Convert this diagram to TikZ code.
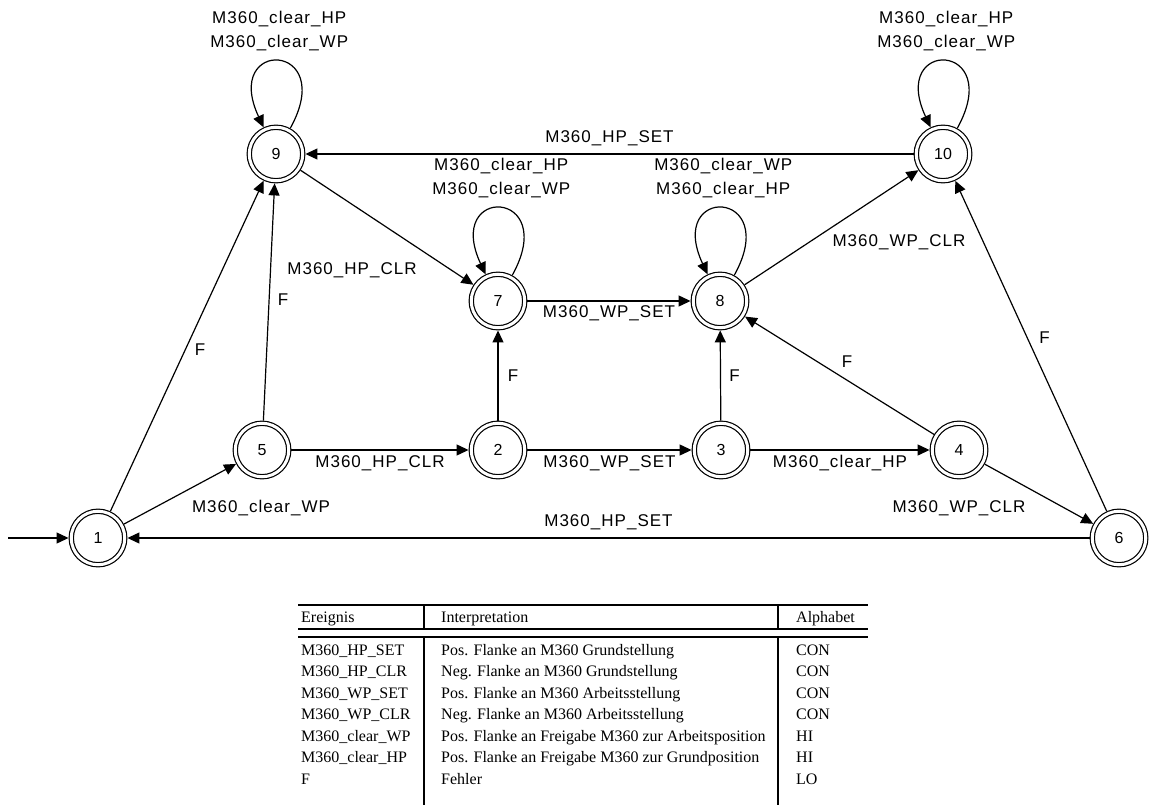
\documentclass[tikz,border=0pt]{standalone}
\usepackage{fontspec}
\setmainfont{Liberation Sans}
\newfontfamily\tabserif{Liberation Serif}
\usetikzlibrary{arrows.meta}
\begin{document}
\begin{tikzpicture}[x=1pt,y=1pt,
  state/.style={circle, draw, double, line width=1.2pt, double distance=3pt,
    minimum size=53.5pt, inner sep=0pt, outer sep=2.7pt,
    font=\fontsize{16}{18}\selectfont},
  trans/.style={line width=1.2pt, -{Triangle[length=12pt,width=11pt]}},
  lbl/.style={font=\fontsize{17}{24}\selectfont\addfontfeature{LetterSpace=6},
    inner sep=0pt, align=center},
  cell/.style={font=\tabserif\fontsize{16}{18}\selectfont, anchor=west,
    inner sep=0pt, text height=11pt, text depth=3pt},
  hrule/.style={line width=1.6pt}
]
\useasboundingbox (0,0) rectangle (1155,-805);

% states
\node[state] (n1)  at (98,-538)  {1};
\node[state] (n9)  at (276,-154) {9};
\node[state] (n10) at (943,-154) {10};
\node[state] (n7)  at (498,-301) {7};
\node[state] (n8)  at (720,-301) {8};
\node[state] (n5)  at (262,-450) {5};
\node[state] (n2)  at (498,-450) {2};
\node[state] (n3)  at (721,-450) {3};
\node[state] (n4)  at (959,-450) {4};
\node[state] (n6)  at (1119,-538) {6};
\coordinate (start) at (8,-538);

% transitions
\draw[trans] (start) -- (n1);
\draw[trans] (n1) -- node[lbl, xshift=13, yshift=-4]{F} (n9);
\draw[trans] (n1) -- node[lbl, xshift=81, yshift=-14]{M360\_clear\_WP} (n5);
\draw[trans] (n5) -- node[lbl, xshift=14, yshift=2]{F} (n9);
\draw[trans] (n5) -- node[lbl, yshift=-13]{M360\_HP\_CLR} (n2);
\draw[trans] (n2) -- node[lbl, yshift=-13]{M360\_WP\_SET} (n3);
\draw[trans] (n3) -- node[lbl, yshift=-13]{M360\_clear\_HP} (n4);
\draw[trans] (n2) -- node[lbl, xshift=15]{F} (n7);
\draw[trans] (n3) -- node[lbl, xshift=14]{F} (n8);
\draw[trans] (n4) -- node[lbl, xshift=7.5, yshift=13.5]{F} (n8);
\draw[trans] (n4) -- node[lbl, xshift=-80, yshift=-14]{M360\_WP\_CLR} (n6);
\draw[trans] (n6) -- node[lbl, xshift=13.5, yshift=8]{F} (n10);
\draw[trans] (n6) -- node[lbl, yshift=16]{M360\_HP\_SET} (n1);
\draw[trans] (n7) -- node[lbl, yshift=-12]{M360\_WP\_SET} (n8);
\draw[trans] (n8) -- node[lbl, xshift=67.5, yshift=-14.5]{M360\_WP\_CLR} (n10);
\draw[trans] (n9) -- node[lbl, xshift=-35, yshift=-42.5]{M360\_HP\_CLR} (n7);
\draw[trans] (n10) -- node[lbl, yshift=16]{M360\_HP\_SET} (n9);

% self loops
\draw[trans] (n9) to[out=61,in=115,looseness=9.5]
  node[lbl, yshift=30]{M360\_clear\_HP\\M360\_clear\_WP} (n9);
\draw[trans] (n10) to[out=61,in=115,looseness=9.5]
  node[lbl, yshift=30]{M360\_clear\_HP\\M360\_clear\_WP} (n10);
\draw[trans] (n7) to[out=61,in=115,looseness=9.5]
  node[lbl, yshift=30]{M360\_clear\_HP\\M360\_clear\_WP} (n7);
\draw[trans] (n8) to[out=61,in=115,looseness=9.5]
  node[lbl, yshift=30]{M360\_clear\_WP\\M360\_clear\_HP} (n8);

% event table
\draw[line width=2pt] (298,-605) -- (868,-605);
\draw[hrule] (298,-629) -- (868,-629);
\draw[hrule] (298,-637) -- (868,-637);
\foreach \cx in {424,778} {
  \draw[line width=2pt] (\cx,-605) -- (\cx,-629);
  \draw[line width=2pt] (\cx,-637) -- (\cx,-805);
}
\node[cell] at (301,-618) {Ereignis};
\node[cell] at (441,-618) {Interpretation};
\node[cell] at (796,-618) {Alphabet};
\foreach \ev/\txt/\alph [count=\i from 0] in {
  M360\_HP\_SET/Pos. Flanke an M360 Grundstellung/CON,
  M360\_HP\_CLR/Neg. Flanke an M360 Grundstellung/CON,
  M360\_WP\_SET/Pos. Flanke an M360 Arbeitsstellung/CON,
  M360\_WP\_CLR/Neg. Flanke an M360 Arbeitsstellung/CON,
  M360\_clear\_WP/Pos. Flanke an Freigabe M360 zur Arbeitsposition/HI,
  M360\_clear\_HP/Pos. Flanke an Freigabe M360 zur Grundposition/HI,
  F/Fehler/LO} {
  \pgfmathsetmacro{\ry}{-651-21.5*\i}
  \node[cell] at (301,\ry) {\ev};
  \node[cell] at (441,\ry) {\txt};
  \node[cell] at (796,\ry) {\alph};
}
\end{tikzpicture}
\end{document}
